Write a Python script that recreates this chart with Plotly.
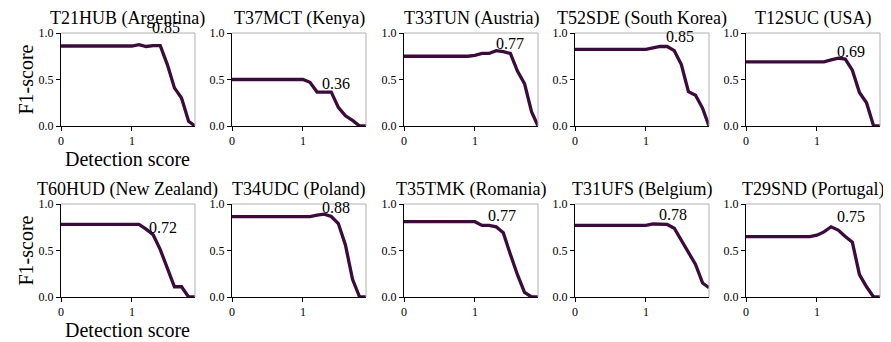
import plotly.graph_objects as go

W, H = 891, 342
OFF = 8  # default page body margin

titles = ["T21HUB (Argentina)", "T37MCT (Kenya)", "T33TUN (Austria)", "T52SDE (South Korea)", "T12SUC (USA)",
          "T60HUD (New Zealand)", "T34UDC (Poland)", "T35TMK (Romania)", "T31UFS (Belgium)", "T29SND (Portugal)"]

x_scores = [0.0, 0.1, 0.2, 0.3, 0.4, 0.5, 0.6, 0.7, 0.8, 0.9, 1.0, 1.1, 1.2, 1.3, 1.4, 1.5, 1.6, 1.7, 1.8, 1.89]

f1_argentina = [0.86]*11 + [0.875, 0.855, 0.865, 0.865, 0.66, 0.41, 0.30, 0.05, 0.0]
f1_kenya = [0.50]*11 + [0.47, 0.365, 0.365, 0.365, 0.20, 0.11, 0.06, 0.0, 0.0]
f1_austria = [0.75]*10 + [0.76, 0.78, 0.78, 0.81, 0.80, 0.78, 0.59, 0.455, 0.15, 0.0]
f1_korea = [0.825]*11 + [0.84, 0.855, 0.855, 0.81, 0.66, 0.37, 0.33, 0.19, 0.0]
f1_usa = [0.69]*12 + [0.71, 0.73, 0.72, 0.60, 0.36, 0.25, 0.0, 0.0]
f1_newzealand = [0.78]*12 + [0.73, 0.67, 0.51, 0.32, 0.11, 0.11, 0.0, 0.0]
f1_poland = [0.865]*12 + [0.88, 0.89, 0.865, 0.79, 0.56, 0.19, 0.0, 0.0]
f1_romania = [0.81]*11 + [0.77, 0.77, 0.755, 0.69, 0.46, 0.24, 0.05, 0.0, 0.0]
f1_belgium = [0.77]*11 + [0.785, 0.785, 0.78, 0.74, 0.61, 0.49, 0.35, 0.15, 0.10]
f1_portugal = [0.65]*10 + [0.665, 0.70, 0.755, 0.72, 0.65, 0.59, 0.24, 0.11, 0.0, 0.0]

series = [f1_argentina, f1_kenya, f1_austria, f1_korea, f1_usa,
          f1_newzealand, f1_poland, f1_romania, f1_belgium, f1_portugal]

peak_labels = ["0.85", "0.36", "0.77", "0.85", "0.69", "0.72", "0.88", "0.77", "0.78", "0.75"]
label_x = [1.25, 1.24, 1.27, 1.26, 1.25, 1.21, 1.24, 1.15, 1.15, 1.25]
label_y = [0.95, 0.34, 0.77, 0.85, 0.69, 0.63, 0.85, 0.76, 0.77, 0.75]

x_ticks = [0, 1]
y_ticks = [0.0, 0.5, 1.0]
y_ticktext = ["0.0", "0.5", "1.0"]

FONT = "Liberation Serif"
LINE_COLOR = "#3b0b3c"

col_px = [(61, 195), (232, 366), (404, 538), (575, 709), (746, 880)]
row_px = [(33, 126), (204, 297)]


def px_x(p):
    return (p - OFF) / W


def px_y(p):
    return (H - (p - OFF)) / H


fig = go.Figure()
annotations = []
shapes = []
for i, ys in enumerate(series):
    r, c = divmod(i, 5)
    sfx = "" if i == 0 else str(i + 1)
    xd = [px_x(col_px[c][0]), px_x(col_px[c][1])]
    yd = [px_y(row_px[r][1]), px_y(row_px[r][0])]
    fig.add_trace(go.Scatter(x=x_scores, y=ys, mode="lines",
                             line=dict(color=LINE_COLOR, width=3.3),
                             xaxis="x" + sfx, yaxis="y" + sfx, showlegend=False))
    xa = dict(domain=xd, anchor="y" + sfx, range=[0, 1.89], tickvals=x_ticks,
              ticks="outside", ticklen=4, tickcolor="black", showline=True,
              linecolor="black", linewidth=1, showgrid=False, zeroline=False,
              tickfont=dict(family=FONT, size=12, color="black"), automargin=False)
    ya = dict(domain=yd, anchor="x" + sfx, range=[0, 1], tickvals=y_ticks, ticktext=y_ticktext,
              ticks="outside", ticklen=4, tickcolor="black", showline=True,
              linecolor="black", linewidth=1, showgrid=False, zeroline=False,
              tickfont=dict(family=FONT, size=12, color="black"), automargin=False)
    fig.layout["xaxis" + sfx] = xa
    fig.layout["yaxis" + sfx] = ya
    if c == 0:
        annotations.append(dict(text="Detection score", xref="x" + sfx + " domain", yref="y" + sfx + " domain",
                                x=0.5, y=0, xanchor="center", yanchor="top", yshift=-20, showarrow=False,
                                font=dict(family=FONT, size=20, color="black")))
        annotations.append(dict(text="F1-score", xref="paper", yref="y" + sfx + " domain",
                                x=px_x(25), y=0.5, xanchor="center", yanchor="middle", textangle=-90,
                                showarrow=False, font=dict(family=FONT, size=20, color="black")))
    annotations.append(dict(text=titles[i], xref="x" + sfx + " domain", yref="y" + sfx + " domain",
                            x=0.5, y=1, xanchor="center", yanchor="bottom", yshift=2, showarrow=False,
                            font=dict(family=FONT, size=18, color="black")))
    annotations.append(dict(text=peak_labels[i], xref="x" + sfx, yref="y" + sfx,
                            x=label_x[i], y=label_y[i], xanchor="left", yanchor="bottom",
                            showarrow=False, font=dict(family=FONT, size=16, color="black")))
    shapes.append(dict(type="line", xref="x" + sfx + " domain", yref="y" + sfx + " domain",
                       x0=0, x1=1, y0=1, y1=1, line=dict(color="#b0b0b0", width=1)))
    shapes.append(dict(type="line", xref="x" + sfx + " domain", yref="y" + sfx + " domain",
                       x0=1, x1=1, y0=0, y1=1, line=dict(color="#b0b0b0", width=1)))

fig.update_layout(width=W, height=H, margin=dict(l=0, r=0, t=0, b=0),
                  paper_bgcolor="white", plot_bgcolor="white",
                  annotations=annotations, shapes=shapes,
                  font=dict(family=FONT, color="black"))
fig.write_html("out.html")
